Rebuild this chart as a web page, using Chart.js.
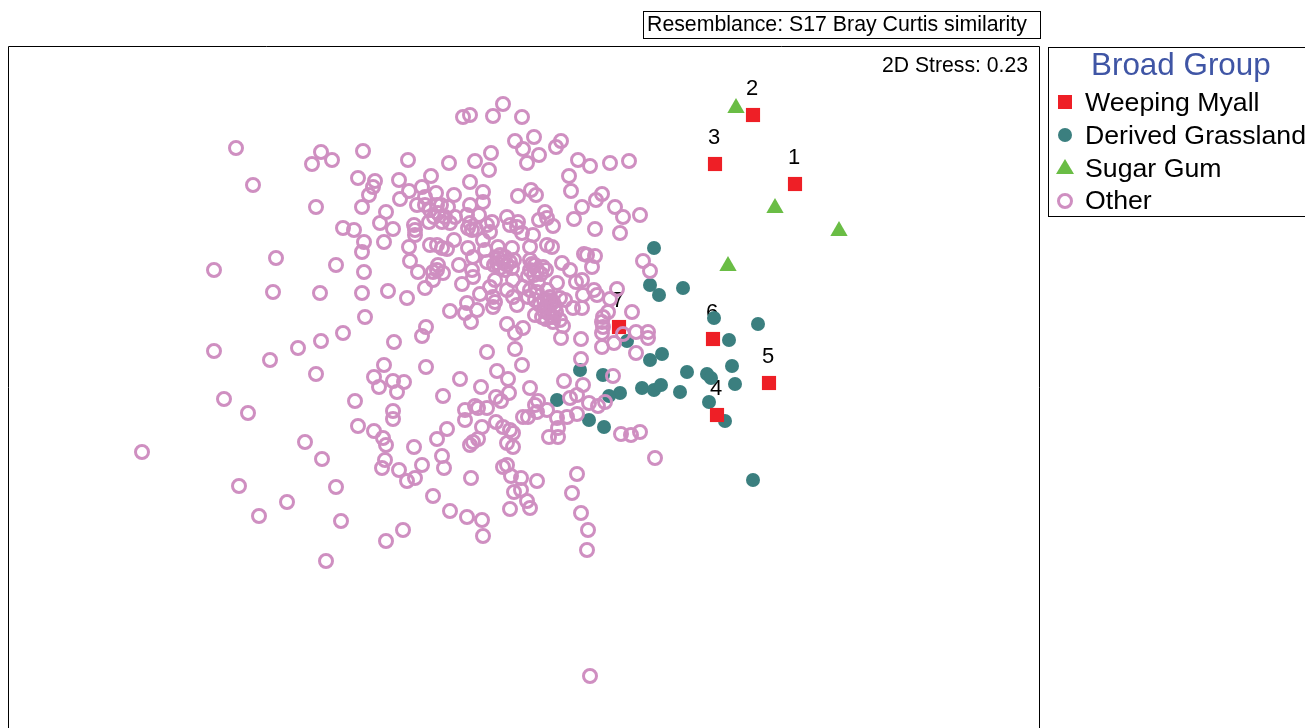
<!DOCTYPE html>
<html>
<head>
<meta charset="utf-8">
<title>Broad Group MDS</title>
<script src="https://cdn.jsdelivr.net/npm/chart.js@4"></script>
<style>
    html, body { margin: 0; padding: 0; background: #fff; overflow: hidden; }
    body { width: 1305px; height: 728px; position: relative; font-family: "Liberation Sans", Arial, sans-serif; color: #000; }
    canvas { position: absolute; left: 0; top: 0; }
    .resemblance { position: absolute; left: 643px; top: 11px; width: 396px; height: 26px; border: 1px solid #000; font-size: 21.3px; line-height: 25px; text-indent: 3px; white-space: nowrap; box-sizing: content-box; }
    .stress { position: absolute; right: 277px; top: 52px; font-size: 21.2px; line-height: 26px; white-space: nowrap; }
    .legend { position: absolute; left: 1048px; top: 47px; width: 270px; height: 168px; border: 1px solid #000; }
    .legend-title { position: absolute; left: 42px; top: 0; font-size: 31.4px; line-height: 34px; color: #3f55a5; white-space: nowrap; }
    .legend-item { position: absolute; left: 36px; font-size: 26.7px; line-height: 32px; white-space: nowrap; }
    .legend svg { position: absolute; left: 0; top: 0; }
</style>
</head>
<body>
<canvas id="mds" width="1305" height="728"></canvas>
<div class="resemblance">Resemblance: S17 Bray Curtis similarity</div>
<div class="stress">2D Stress: 0.23</div>
<div class="legend" id="legend"></div>
<script>
const legendTitle = 'Broad Group';
const seriesNames = ['Weeping Myall', 'Derived Grassland', 'Sugar Gum', 'Other'];
const seriesColors = ['#ee1f26', '#3b7f7f', '#6abd45', '#cf8fc1'];

// values are read off the picture, no axes are shown in the original ordination
const myallLabels = ['1', '2', '3', '4', '5', '6', '7'];
const myallPoints = [[795, 184], [753, 115], [715, 164], [717, 415], [769, 383], [713, 339], [619, 327]];

const grasslandPoints = [
    [654, 248], [650, 285], [659, 295], [683, 288], [714, 318], [758, 324], [729, 340], [627, 341],
    [662, 354], [650, 360], [687, 372], [732, 366], [707, 374], [711, 378], [580, 370], [603, 375],
    [735, 384], [642, 388], [654, 390], [661, 385], [680, 392], [620, 393], [609, 396], [557, 400],
    [709, 402], [725, 421], [589, 420], [604, 427], [753, 480]
];

const sugarGumPoints = [[736, 108], [775, 208], [839, 231], [728, 266]];

const otherPoints = [
    [503, 104], [470, 115], [463, 117], [493, 116], [522, 117], [534, 137], [515, 141], [561, 141],
    [556, 147], [523, 149], [539, 155], [527, 163], [491, 153], [475, 161], [489, 170], [363, 151],
    [332, 160], [408, 160], [449, 163], [578, 160], [590, 166], [610, 163], [629, 161], [569, 176],
    [571, 191], [602, 194], [596, 200], [582, 207], [574, 219], [615, 207], [623, 217], [640, 215],
    [595, 229], [620, 233], [531, 190], [536, 195], [518, 196], [545, 212], [547, 218], [539, 220],
    [553, 226], [358, 178], [375, 181], [373, 187], [369, 195], [362, 207], [399, 180], [431, 176],
    [470, 182], [422, 187], [409, 191], [400, 199], [436, 193], [454, 195], [483, 192], [483, 202],
    [470, 205], [425, 197], [417, 205], [425, 205], [437, 205], [448, 207], [438, 213], [445, 217],
    [455, 217], [467, 215], [479, 215], [429, 222], [442, 222], [450, 223], [386, 212], [380, 223],
    [393, 229], [384, 242], [343, 228], [354, 230], [364, 242], [362, 252], [336, 265], [364, 272],
    [362, 293], [388, 291], [407, 298], [365, 317], [343, 333], [414, 225], [415, 230], [415, 235],
    [409, 247], [410, 261], [418, 272], [425, 288], [430, 245], [437, 245], [442, 248], [447, 249],
    [454, 240], [438, 265], [437, 270], [433, 272], [443, 273], [433, 280], [459, 265], [462, 284],
    [468, 248], [472, 230], [468, 228], [487, 225], [492, 222], [490, 232], [483, 240], [473, 257],
    [472, 270], [473, 277], [485, 250], [487, 262], [498, 247], [500, 255], [497, 263], [507, 217],
    [510, 225], [518, 222], [517, 227], [522, 233], [533, 235], [530, 247], [512, 248], [547, 245],
    [552, 247], [507, 265], [512, 268], [505, 270], [530, 260], [535, 265], [543, 267], [530, 270],
    [495, 280], [490, 287], [480, 294], [493, 297], [495, 302], [493, 307], [467, 303], [477, 310],
    [465, 313], [471, 322], [450, 311], [507, 290], [513, 297], [517, 305], [513, 280], [523, 287],
    [530, 290], [538, 283], [528, 297], [537, 292], [547, 290], [557, 283], [550, 297], [547, 307],
    [548, 313], [542, 317], [535, 315], [560, 298], [565, 300], [573, 308], [582, 308], [563, 326],
    [560, 320], [553, 317], [562, 263], [570, 270], [576, 282], [582, 280], [584, 254], [587, 255],
    [595, 256], [592, 267], [594, 290], [597, 295], [583, 295], [617, 289], [610, 299], [632, 312],
    [608, 312], [603, 317], [602, 322], [603, 327], [602, 333], [602, 347], [643, 261], [650, 271],
    [507, 324], [523, 328], [515, 333], [426, 327], [422, 336], [394, 342], [561, 338], [581, 339],
    [614, 343], [623, 334], [636, 332], [648, 332], [648, 338], [636, 353], [581, 359], [515, 349],
    [487, 352], [522, 365], [426, 367], [384, 365], [393, 381], [374, 377], [379, 387], [404, 382],
    [397, 392], [355, 401], [460, 379], [481, 387], [497, 371], [508, 379], [443, 396], [530, 388],
    [509, 393], [564, 381], [613, 376], [583, 385], [570, 398], [577, 395], [496, 397], [501, 401],
    [465, 410], [475, 406], [478, 408], [487, 408], [465, 420], [393, 411], [393, 419], [358, 426],
    [374, 431], [383, 438], [386, 445], [414, 447], [437, 439], [447, 429], [482, 427], [496, 422],
    [503, 427], [510, 430], [513, 433], [507, 443], [513, 447], [385, 460], [382, 468], [399, 470],
    [407, 481], [415, 478], [422, 465], [442, 456], [444, 468], [470, 445], [473, 442], [478, 439],
    [471, 478], [433, 496], [450, 511], [467, 517], [482, 520], [483, 536], [403, 530], [386, 541],
    [503, 467], [507, 465], [511, 476], [521, 478], [537, 481], [521, 490], [514, 492], [527, 501],
    [530, 508], [510, 509], [577, 474], [572, 493], [581, 513], [588, 530], [587, 550], [655, 458],
    [640, 432], [631, 435], [621, 434], [549, 437], [558, 437], [558, 428], [557, 418], [567, 417],
    [577, 414], [547, 410], [538, 401], [535, 405], [537, 412], [528, 417], [523, 417], [589, 403],
    [598, 406], [605, 402], [236, 148], [253, 185], [321, 152], [312, 164], [316, 207], [276, 258],
    [214, 270], [273, 292], [320, 293], [321, 341], [298, 348], [214, 351], [270, 360], [316, 374],
    [224, 399], [248, 413], [142, 452], [305, 442], [322, 459], [239, 486], [336, 487], [287, 502],
    [259, 516], [341, 521], [326, 561], [590, 676],
    // tight cluster in the middle, rings overlap so these are rougher
    [498, 258], [503, 262], [505, 257], [510, 262], [500, 268], [514, 260], [494, 265], [532, 264],
    [537, 270], [534, 275], [528, 276], [541, 274], [546, 270], [535, 300], [544, 300], [551, 304],
    [555, 306], [544, 311], [551, 316], [556, 312], [548, 300], [553, 302], [540, 305], [546, 319],
    [553, 322], [470, 223], [476, 229], [441, 205], [430, 210], [434, 217]
];

function toXY(points) {
    return points.map(p => ({ x: p[0], y: p[1] }));
}

// frame is open at the bottom, the picture cuts it off
const framePlugin = {
    id: 'frame',
    beforeDraw(chart) {
        const { ctx, chartArea } = chart;
        ctx.save();
        ctx.strokeStyle = '#000';
        ctx.lineWidth = 1;
        ctx.beginPath();
        ctx.moveTo(chartArea.left - 0.5, chartArea.bottom);
        ctx.lineTo(chartArea.left - 0.5, chartArea.top - 0.5);
        ctx.lineTo(chartArea.right + 0.5, chartArea.top - 0.5);
        ctx.lineTo(chartArea.right + 0.5, chartArea.bottom);
        ctx.stroke();
        ctx.restore();
    }
};

const myallLabelPlugin = {
    id: 'myallLabels',
    beforeDatasetsDraw(chart) {
        const { ctx, scales } = chart;
        ctx.save();
        ctx.fillStyle = '#000';
        ctx.font = '22px "Liberation Sans", Arial, sans-serif';
        ctx.textAlign = 'center';
        ctx.textBaseline = 'middle';
        myallPoints.forEach((p, i) => {
            ctx.fillText(myallLabels[i], scales.x.getPixelForValue(p[0]) - 1, scales.y.getPixelForValue(p[1]) - 26);
        });
        ctx.restore();
    }
};

new Chart(document.getElementById('mds'), {
    type: 'scatter',
    data: {
        datasets: [
            { label: seriesNames[0], data: toXY(myallPoints), pointStyle: 'rect', pointRadius: 10, backgroundColor: seriesColors[0], borderWidth: 0, order: 1 },
            { label: seriesNames[1], data: toXY(grasslandPoints), pointStyle: 'circle', pointRadius: 7, backgroundColor: seriesColors[1], borderWidth: 0, order: 3 },
            { label: seriesNames[2], data: toXY(sugarGumPoints), pointStyle: 'triangle', pointRadius: 10, backgroundColor: seriesColors[2], borderWidth: 0, order: 2 },
            { label: seriesNames[3], data: toXY(otherPoints), pointStyle: 'circle', pointRadius: 6.5, backgroundColor: 'transparent', borderColor: seriesColors[3], borderWidth: 3, order: 0 }
        ]
    },
    options: {
        responsive: false,
        animation: false,
        events: [],
        clip: false,
        layout: { autoPadding: false, padding: { left: 9, top: 47, right: 266, bottom: 0 } },
        plugins: { legend: { display: false }, tooltip: { enabled: false } },
        scales: {
            x: { type: 'linear', display: false, min: 9, max: 1039 },
            y: { type: 'linear', display: false, min: 47, max: 728, reverse: true }
        }
    },
    plugins: [framePlugin, myallLabelPlugin]
});

// legend, same markers as the chart
const legend = document.getElementById('legend');
const itemTops = [38, 71, 104, 136];
const markers = [
    `<rect x="9" y="47" width="14" height="14" fill="${seriesColors[0]}"/>`,
    `<circle cx="16" cy="87" r="7" fill="${seriesColors[1]}"/>`,
    `<polygon points="16,111 25,126 7,126" fill="${seriesColors[2]}"/>`,
    `<circle cx="16" cy="153" r="6.5" fill="none" stroke="${seriesColors[3]}" stroke-width="3"/>`
];
let html = `<div class="legend-title">${legendTitle}</div>`;
html += `<svg width="40" height="168">${markers.join('')}</svg>`;
seriesNames.forEach((name, i) => {
    html += `<div class="legend-item" style="top:${itemTops[i]}px">${name}</div>`;
});
legend.innerHTML = html;
</script>
</body>
</html>
